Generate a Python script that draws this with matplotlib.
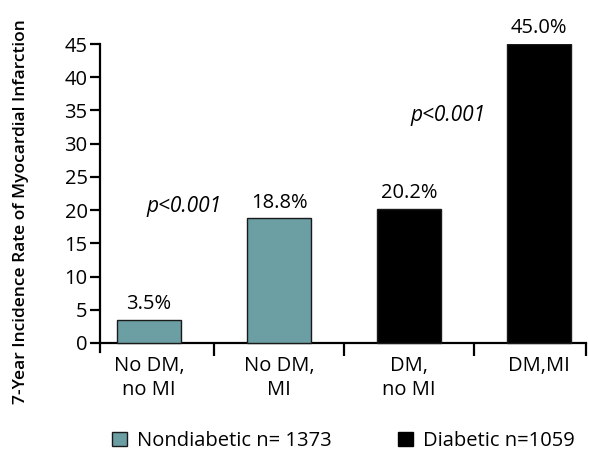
import matplotlib
matplotlib.use("Agg")
import matplotlib.pyplot as plt
from matplotlib.patches import Patch

categories = ["No DM,\nno MI", "No DM,\nMI", "DM,\nno MI", "DM,MI"]
rates = [3.5, 18.8, 20.2, 45.0]
groups = ["Nondiabetic", "Nondiabetic", "Diabetic", "Diabetic"]
legend_labels = ["Nondiabetic n= 1373", "Diabetic n=1059"]
p_labels = ["p<0.001", "p<0.001"]
y_ticks = [0, 5, 10, 15, 20, 25, 30, 35, 40, 45]

TEAL = "#6b9fa3"
colors = {"Nondiabetic": TEAL, "Diabetic": "#000000"}
FS = 14.5

plt.rcParams["font.family"] = ["Open Sans", "DejaVu Sans"]

fig = plt.figure(figsize=(5.89, 4.51), dpi=100)
ax = fig.add_axes([100 / 589, (451 - 352) / 451, 486 / 589, (352 - 44) / 451])

x = list(range(len(categories)))
ax.bar(x, rates, width=0.49, color=[colors[g] for g in groups],
       edgecolor="#1a1a1a", linewidth=1.0, zorder=3)

for xi, r in zip(x, rates):
    ax.annotate(f"{r:.1f}%", (xi, r), xytext=(0, 4), textcoords="offset points",
                ha="center", va="bottom", fontsize=FS)

ax.text(0.27, 20.5, p_labels[0], style="italic", fontsize=15, ha="center", va="center")
ax.text(2.30, 34.3, p_labels[1], style="italic", fontsize=15, ha="center", va="center")

ax.set_xlim(-0.377, 3.36)
ax.set_ylim(-1.36, 45)
ax.spines["top"].set_visible(False)
ax.spines["right"].set_visible(False)
ax.spines["bottom"].set_position(("data", 0))
ax.spines["bottom"].set_linewidth(1.6)
ax.spines["left"].set_linewidth(1.6)

ax.set_yticks(y_ticks)
ax.tick_params(axis="y", length=7, width=1.6, labelsize=FS, pad=2)

ax.set_xticks([0.5, 1.5, 2.5, 3.36])
ax.set_xticklabels([])
ax.tick_params(axis="x", length=9, width=1.6, direction="out")

for xi, lab in zip(x, categories):
    ax.text(xi, -1.9, lab, ha="center", va="top", fontsize=FS, linespacing=1.3)

ax.set_ylabel("7-Year Incidence Rate of Myocardial Infarction", fontsize=12.5,
              fontweight="semibold")
ax.yaxis.set_label_coords(-0.146, 0.455)

handles = [Patch(facecolor=TEAL, edgecolor="#1a1a1a", linewidth=1.0),
           Patch(facecolor="#000000", edgecolor="#000000")]
fig.legend(handles, legend_labels, loc="center", bbox_to_anchor=(0.583, 0.022),
           ncol=2, frameon=False, fontsize=FS, handlelength=0.75, handleheight=0.75,
           handletextpad=0.5, columnspacing=3.3)

fig.savefig("out.png", dpi=100)
